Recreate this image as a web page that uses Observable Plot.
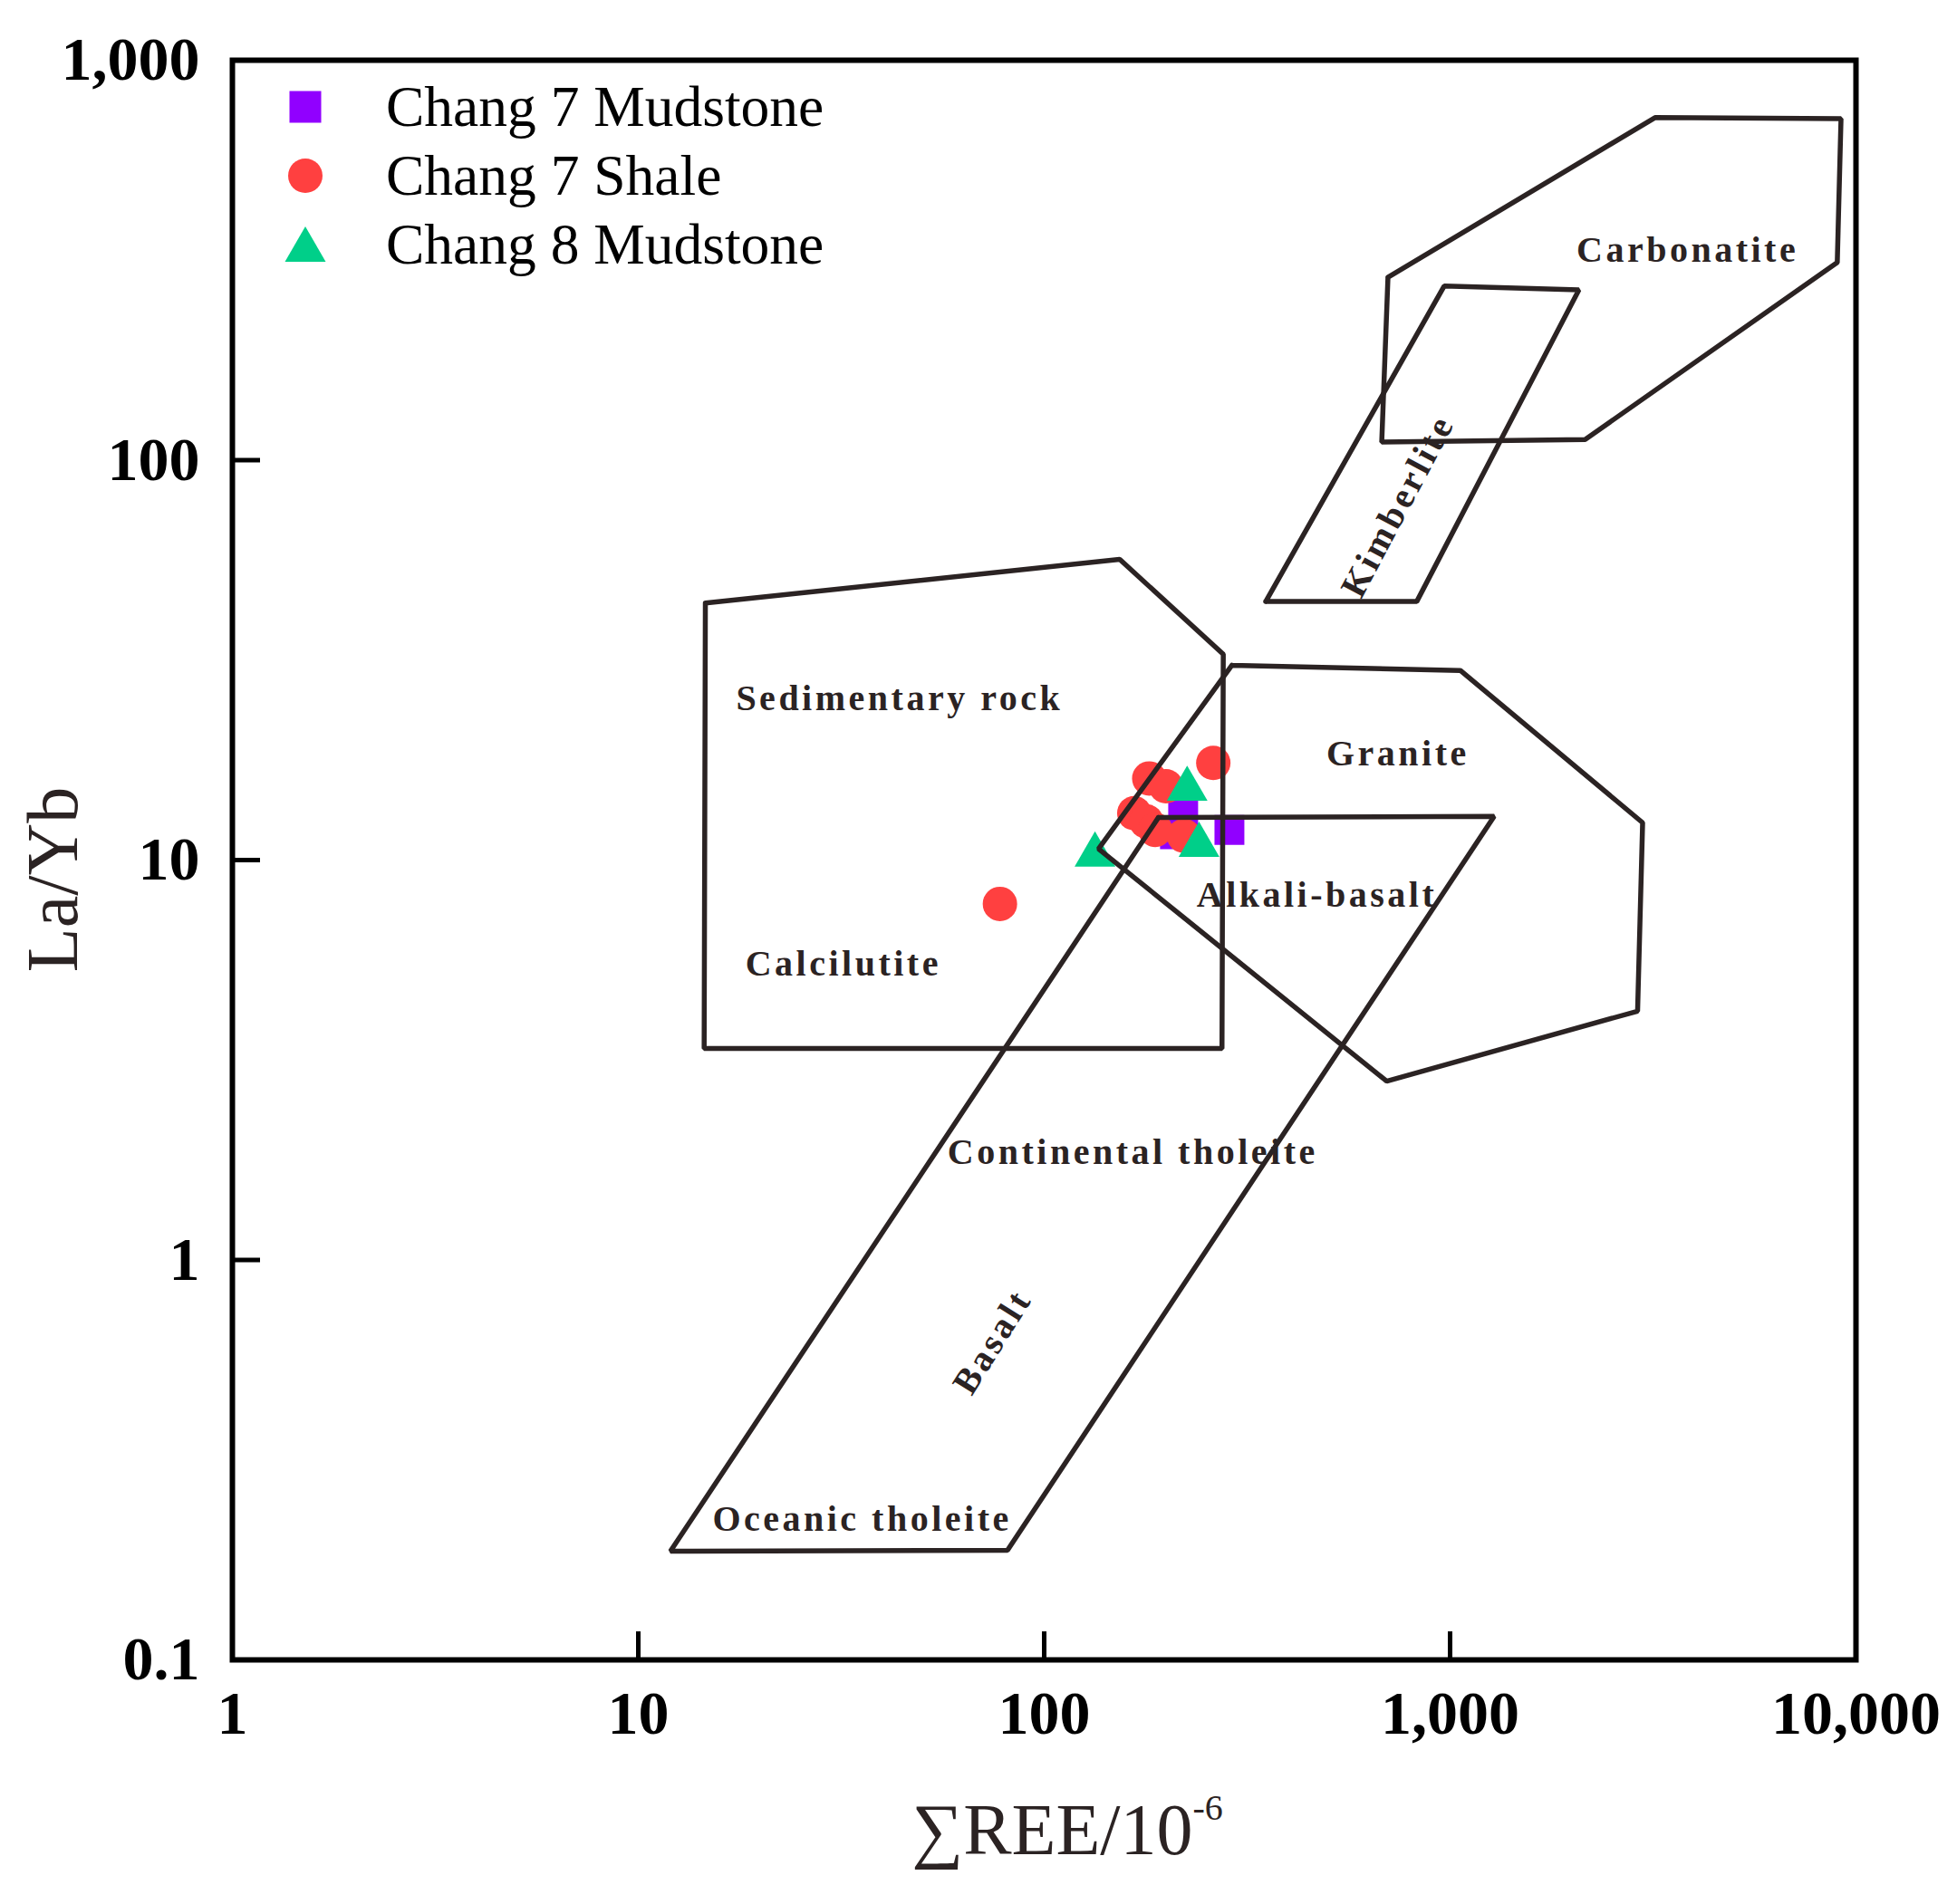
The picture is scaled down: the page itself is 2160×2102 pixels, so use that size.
<!DOCTYPE html>
<html>
<head>
<meta charset="utf-8">
<script src="https://cdn.jsdelivr.net/npm/d3@7"></script>
<script src="https://cdn.jsdelivr.net/npm/@observablehq/plot@0.6"></script>
<style>
  body { margin: 0; background: #fff; }
  #wrap { position: relative; width: 2160px; height: 2102px; background: #fff; }
  .lab { position: absolute; font-family: "Liberation Serif", "Times New Roman", serif; color: #2b2323; white-space: nowrap; line-height: 1; }
  .legrow { position: absolute; display: flex; align-items: center; height: 80px; font-family: "Liberation Serif", "Times New Roman", serif; font-size: 63.5px; color: #000; white-space: nowrap; }
  .legrow svg { flex: none; }
</style>
</head>
<body>
<div id="wrap"></div>
<script>
// ---------- axis ticks ----------
const xTicks = [1, 10, 100, 1000, 10000];
const yTicks = [0.1, 1, 10, 100, 1000];

// ---------- sample data (ΣREE, La/Yb) ----------
const seriesNames = ["Chang 7 Mudstone", "Chang 7 Shale", "Chang 8 Mudstone"];
const seriesColors = ["#9100ff", "#ff4040", "#00cf89"];

const mud7REE  = [220, 286, 210];
const mud7LaYb = [13.0, 11.9, 11.6];

const shale7REE  = [261, 181.5, 199.5, 166.7, 178.4, 187.8, 221, 77.8];
const shale7LaYb = [17.5, 16.0, 15.3, 13.1, 12.5, 11.9, 11.5, 7.77];

const mud8REE  = [225, 240.7, 133.4];
const mud8LaYb = [15.05, 10.9, 10.3];

// ---------- discrimination field outlines ----------
const carbonatiteREE  = [703, 3199, 9186, 8993, 2151, 678.6];
const carbonatiteLaYb = [286.5, 718.7, 714, 312, 112.6, 111];

const kimberliteREE  = [351.4, 967, 2077, 827.7];
const kimberliteLaYb = [44.3, 272.4, 266.7, 44.3];

const sedimentREE  = [14.63, 153.5, 276.2, 274.2, 14.53];
const sedimentLaYb = [43.9, 56.5, 32.7, 3.38, 3.38];

const graniteREE  = [290.1, 1060, 2981, 2897, 698, 136.1];
const graniteLaYb = [30.7, 29.8, 12.4, 4.19, 2.80, 10.67];

const basaltREE  = [191.1, 1284, 81.2, 12.0];
const basaltLaYb = [12.77, 12.86, 0.188, 0.187];

// ---------- field labels ----------
const fieldLabels = ["Carbonatite", "Kimberlite", "Sedimentary rock", "Granite", "Alkali-basalt", "Calcilutite", "Continental tholeite", "Basalt", "Oceanic tholeite"];
const fieldLabelREE  = [3846, 743.8, 44.0, 743.8, 469.8, 32.0, 165.3, 74.6, 35.6];
const fieldLabelLaYb = [335.6, 76.9, 25.3, 18.4, 8.18, 5.51, 1.86, 0.625, 0.2253];
const fieldLabelAngle = [0, -62, 0, 0, 0, 0, 0, -58, 0];

// ---------- build tables ----------
function pts(xs, ys) { return xs.map((x, i) => ({ree: x, lay: ys[i]})); }
function ring(name, xs, ys) {
  const r = xs.map((x, i) => ({name, ree: x, lay: ys[i]}));
  r.push({...r[0]});
  return r;
}
const fields = [
  ...ring("Carbonatite", carbonatiteREE, carbonatiteLaYb),
  ...ring("Kimberlite", kimberliteREE, kimberliteLaYb),
  ...ring("Sediment", sedimentREE, sedimentLaYb),
  ...ring("Granite", graniteREE, graniteLaYb),
  ...ring("Basalt", basaltREE, basaltLaYb)
];
const labels = fieldLabels.map((t, i) => ({t, ree: fieldLabelREE[i], lay: fieldLabelLaYb[i], a: fieldLabelAngle[i]}));

const fmt = d3.format(",");
const lineColor = "#2b2323";

const chart = Plot.plot({
  width: 2160,
  height: 2102,
  marginLeft: 256,
  marginRight: 112,
  marginTop: 66,
  marginBottom: 270,
  x: {type: "log", domain: [1, 10000]},
  y: {type: "log", domain: [0.1, 1000]},
  style: {fontFamily: "'Liberation Serif', 'Times New Roman', serif", background: "white", color: "black"},
  marks: [
    Plot.dot(pts(mud7REE, mud7LaYb), {x: "ree", y: "lay", symbol: "square", r: 18.6, fill: seriesColors[0], stroke: "none"}),
    Plot.dot(pts(shale7REE, shale7LaYb), {x: "ree", y: "lay", symbol: "circle", r: 19, fill: seriesColors[1], stroke: "none"}),
    Plot.dot(pts(mud8REE, mud8LaYb), {x: "ree", y: "lay", symbol: "triangle", r: 16.7, fill: seriesColors[2], stroke: "none"}),
    Plot.line(fields, {x: "ree", y: "lay", z: "name", stroke: lineColor, strokeWidth: 5.5, strokeLinejoin: "miter", curve: "linear"}),
    Plot.text(labels, {x: "ree", y: "lay", text: "t", rotate: "a", fontSize: 40, fontWeight: "bold", fill: lineColor, textAnchor: "middle", lineAnchor: "middle", ariaDescription: "field-labels"}),
    Plot.axisX({ticks: xTicks, tickFormat: fmt, tickSize: -31, tickPadding: 64, strokeWidth: 5, fontSize: 68, fontWeight: "bold", fill: "black", label: null}),
    Plot.axisY({ticks: yTicks, tickFormat: fmt, tickSize: -31, tickPadding: 67, strokeWidth: 5, fontSize: 68, fontWeight: "bold", fill: "black", label: null}),
    Plot.frame({stroke: "black", strokeWidth: 6})
  ]
});

const wrap = document.getElementById("wrap");
wrap.appendChild(chart);
chart.querySelectorAll('g[aria-description="field-labels"] text').forEach(t => t.style.letterSpacing = "3.5px");

// ---------- axis titles ----------
const yLab = document.createElement("div");
yLab.className = "lab";
yLab.style.cssText = "left:58px;top:971px;font-size:80px;transform:translate(-50%,-50%) rotate(-90deg);";
yLab.textContent = "La/Yb";
wrap.appendChild(yLab);

const xLab = document.createElement("div");
xLab.className = "lab";
xLab.style.cssText = "left:1178px;top:2018px;font-size:80px;transform:translate(-50%,-50%);";
xLab.innerHTML = "∑REE/10<span style='font-size:0.5em;vertical-align:0.95em'>-6</span>";
wrap.appendChild(xLab);

// ---------- legend ----------
const legendSymbols = ["square", "circle", "triangle"];
seriesNames.forEach((name, i) => {
  const row = document.createElement("div");
  row.className = "legrow";
  row.style.left = "307px";
  row.style.top = (118 + i * 76 - 40) + "px";
  const ns = "http://www.w3.org/2000/svg";
  const s = document.createElementNS(ns, "svg");
  s.setAttribute("width", 60); s.setAttribute("height", 80);
  let shape;
  if (legendSymbols[i] === "square") {
    shape = document.createElementNS(ns, "rect");
    shape.setAttribute("x", 12.5); shape.setAttribute("y", 22.5); shape.setAttribute("width", 35); shape.setAttribute("height", 35);
  } else if (legendSymbols[i] === "circle") {
    shape = document.createElementNS(ns, "circle");
    shape.setAttribute("cx", 30); shape.setAttribute("cy", 40); shape.setAttribute("r", 19);
  } else {
    shape = document.createElementNS(ns, "path");
    shape.setAttribute("d", "M30,20 L52.5,59 L7.5,59 Z");
  }
  shape.setAttribute("fill", seriesColors[i]);
  s.appendChild(shape);
  row.appendChild(s);
  const t = document.createElement("span");
  t.style.marginLeft = "59px";
  t.textContent = name;
  row.appendChild(t);
  wrap.appendChild(row);
});
</script>
</body>
</html>
